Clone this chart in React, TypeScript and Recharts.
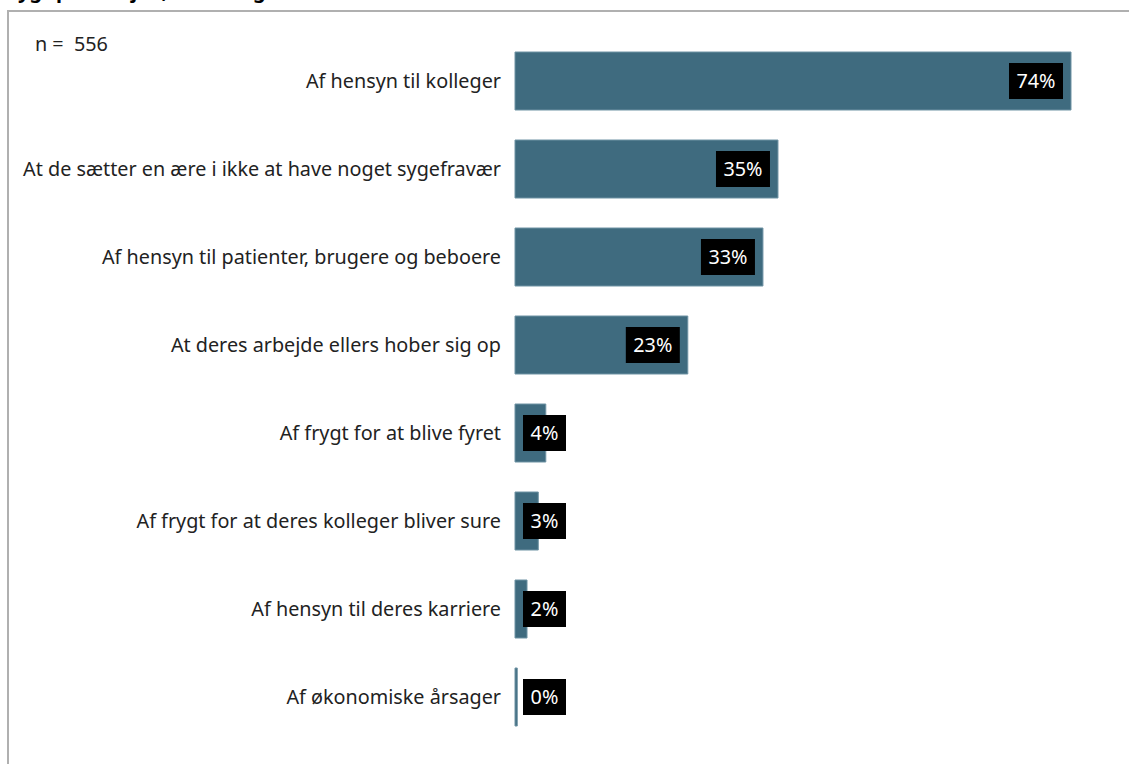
import React from 'react';
import { BarChart, Bar, XAxis, YAxis, LabelList } from 'recharts';

// reasons given for going to work while sick
const reasons = [
  'Af hensyn til kolleger',
  'At de sætter en ære i ikke at have noget sygefravær',
  'Af hensyn til patienter, brugere og beboere',
  'At deres arbejde ellers hober sig op',
  'Af frygt for at blive fyret',
  'Af frygt for at deres kolleger bliver sure',
  'Af hensyn til deres karriere',
  'Af økonomiske årsager',
];
const shares = [74, 35, 33, 23, 4.1, 3.1, 1.6, 0.3];
const respondents = 556;

const FONT = '"Noto Sans", "Open Sans", sans-serif';
const BAR_COLOR = '#3f6b7f';

const chartData = reasons.map((reason, i) => ({ reason, share: shares[i] }));

function ValueBadge(props: any) {
  const { x, y, width, height, value } = props;
  const txt = `${Math.round(value)}%`;
  const digits = txt.length - 1;
  const boxW = 32 + 11 * digits;
  const boxH = 36;
  const bx = Math.max(x + 8, x + width - 8 - boxW);
  const cy = y + height / 2;
  return (
    <g>
      <rect x={bx} y={cy - boxH / 2} width={boxW} height={boxH} fill="#000" />
      <text
        x={bx + boxW / 2}
        y={cy}
        dy="0.36em"
        textAnchor="middle"
        fill="#fff"
        fontSize={19.8}
        fontFamily={FONT}
      >
        {txt}
      </text>
    </g>
  );
}

export default function App() {
  return (
    <div
      style={{
        position: 'fixed',
        left: 0,
        top: 0,
        width: 1129,
        height: 764,
        overflow: 'hidden',
        background: '#fff',
        fontFamily: FONT,
      }}
    >
      {/* title sits mostly above the visible area */}
      <div
        style={{
          position: 'absolute',
          left: 8,
          top: -21,
          fontSize: 20,
          lineHeight: '24px',
          fontWeight: 'bold',
          color: '#000',
          whiteSpace: 'nowrap',
        }}
      >
        sygt på arbejde, hvorfor gør de det?
      </div>
      <div
        style={{
          position: 'absolute',
          left: 7,
          top: 10,
          width: 1300,
          height: 900,
          border: '2px solid #b0b0b0',
        }}
      />
      <div
        style={{
          position: 'absolute',
          left: 35,
          top: 30,
          fontSize: 19.8,
          color: '#222',
          whiteSpace: 'pre',
        }}
      >
        {`n =  ${respondents}`}
      </div>
      <div style={{ position: 'absolute', left: 0, top: 0 }}>
        <BarChart
          width={1129}
          height={764}
          data={chartData}
          layout="vertical"
          margin={{ top: 37, right: 58, bottom: 23, left: 0 }}
        >
          <XAxis type="number" domain={[0, 74]} hide />
          <YAxis
            type="category"
            dataKey="reason"
            width={515}
            axisLine={false}
            tickLine={false}
            tickSize={0}
            tickMargin={14}
            tick={{ fill: '#222', fontSize: 19.8, fontFamily: FONT }}
            interval={0}
          />
          <Bar
            dataKey="share"
            fill={BAR_COLOR}
            stroke="#6f93a4"
            strokeWidth={1}
            barSize={58}
            isAnimationActive={false}
          >
            <LabelList dataKey="share" content={<ValueBadge />} />
          </Bar>
        </BarChart>
      </div>
    </div>
  );
}
